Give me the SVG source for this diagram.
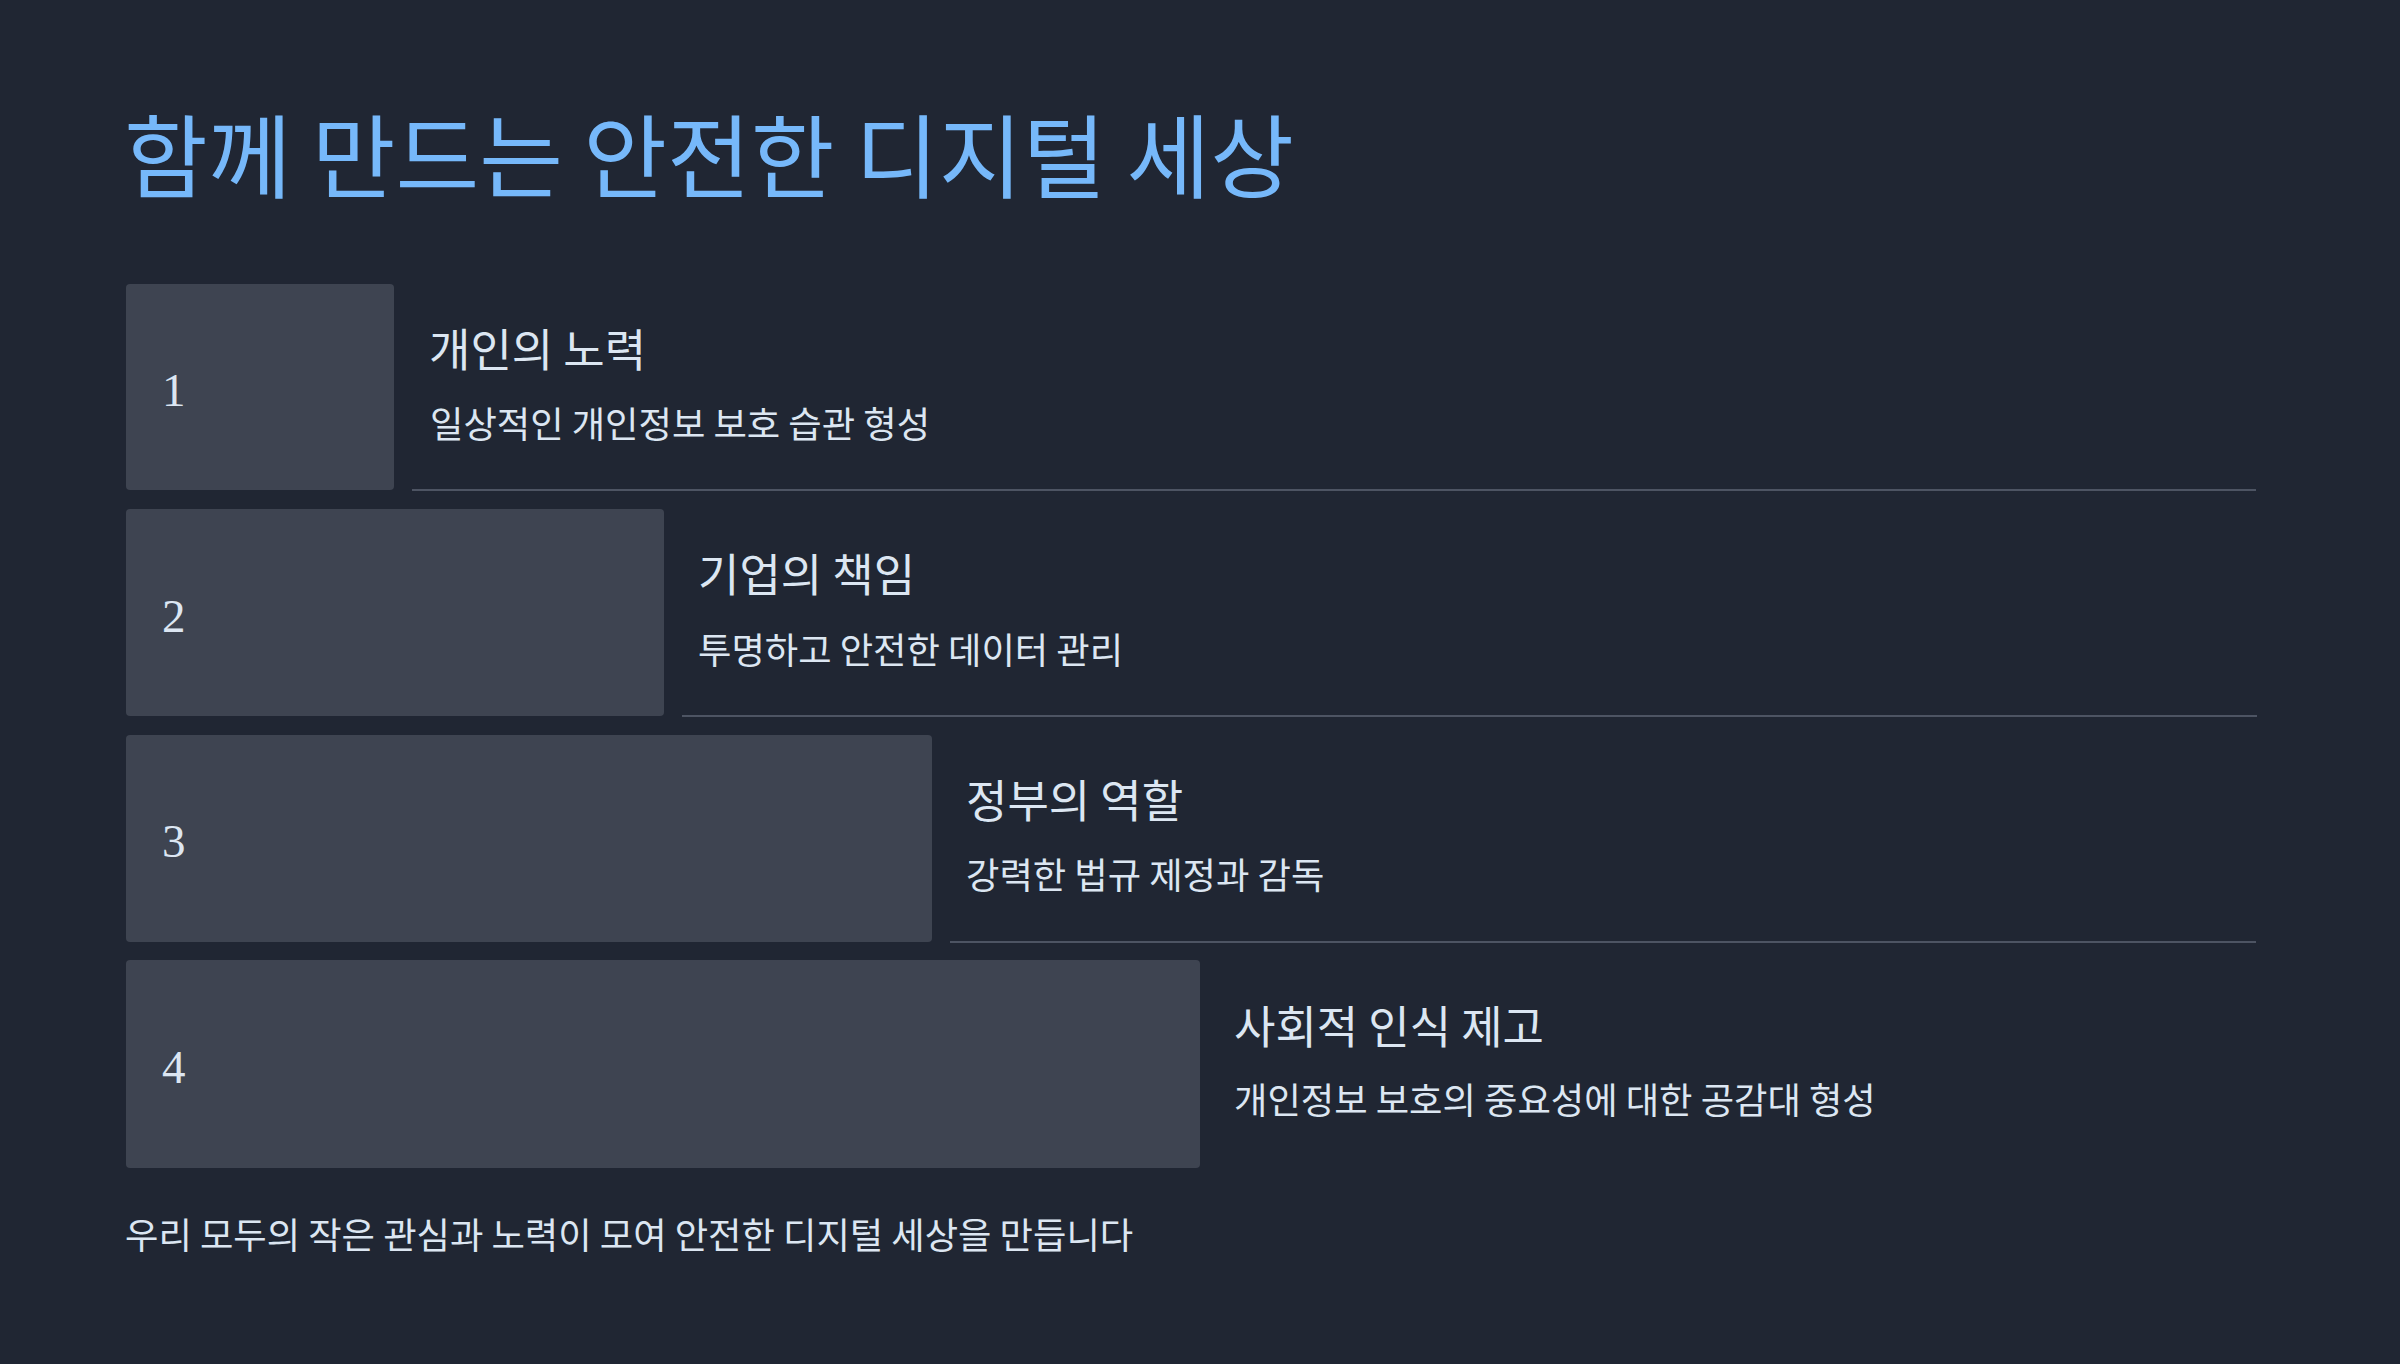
<svg xmlns="http://www.w3.org/2000/svg" width="2400" height="1364" viewBox="0 0 2400 1364">
<style>
.bg{fill:#202633}
.box{fill:#3e4451}
.kr{font-family:"Noto Sans CJK KR","Noto Sans",sans-serif}
.title{font-size:91px;fill:#76b8fa}
.num{font-family:"Liberation Serif",serif;font-size:47px;fill:#dce6f2}
.head{font-size:45px;fill:#dce6f2}
.sub{font-size:36.3px;fill:#dce6f2}
.foot{font-size:36.3px;fill:#dce6f2}
.sep{stroke:#4d5463;stroke-width:2}
</style>
<rect class="bg" x="0" y="0" width="2400" height="1364"/>
<text class="kr title" x="124" y="191">함께 만드는 안전한 디지털 세상</text>
<g id="connectors">
<line class="sep" x1="412" y1="490" x2="2256" y2="490"/>
<line class="sep" x1="682" y1="716" x2="2257" y2="716"/>
<line class="sep" x1="950" y1="942" x2="2256" y2="942"/>
</g>
<g id="step1">
<rect class="box" x="126" y="284" width="268" height="206" rx="4"/>
<text class="num" x="162" y="406">1</text>
<text class="kr head" x="429" y="367">개인의 노력</text>
<text class="kr sub" x="430" y="438">일상적인 개인정보 보호 습관 형성</text>
</g>
<g id="step2">
<rect class="box" x="126" y="509" width="538" height="207" rx="4"/>
<text class="num" x="162" y="632">2</text>
<text class="kr head" x="698" y="592">기업의 책임</text>
<text class="kr sub" x="698" y="664">투명하고 안전한 데이터 관리</text>
</g>
<g id="step3">
<rect class="box" x="126" y="735" width="806" height="207" rx="4"/>
<text class="num" x="162" y="857">3</text>
<text class="kr head" x="966" y="818">정부의 역할</text>
<text class="kr sub" x="966" y="889">강력한 법규 제정과 감독</text>
</g>
<g id="step4">
<rect class="box" x="126" y="960" width="1074" height="208" rx="4"/>
<text class="num" x="162" y="1083">4</text>
<text class="kr head" x="1234" y="1044">사회적 인식 제고</text>
<text class="kr sub" x="1234" y="1114">개인정보 보호의 중요성에 대한 공감대 형성</text>
</g>
<text class="kr foot" x="125" y="1249">우리 모두의 작은 관심과 노력이 모여 안전한 디지털 세상을 만듭니다</text>
</svg>
